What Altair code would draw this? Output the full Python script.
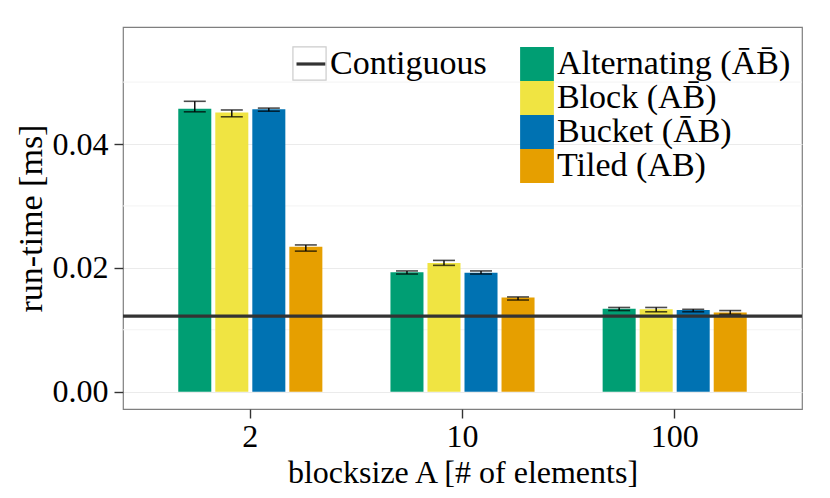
import altair as alt
import pandas as pd

blocksizes = ["2", "10", "100"]
layouts = ["Alternating (\u0100B\u0304)", "Block (AB\u0304)", "Bucket (\u0100B)", "Tiled (AB)"]
colors = ["#009E73", "#F0E442", "#0072B2", "#E69F00"]

mean_alternating = [0.0457, 0.0193, 0.0134]
mean_block = [0.0451, 0.0208, 0.0133]
mean_bucket = [0.0456, 0.0192, 0.0132]
mean_tiled = [0.0234, 0.0152, 0.0128]

lo_alternating = [0.0452, 0.0190, 0.0131]
lo_block = [0.0444, 0.0204, 0.0129]
lo_bucket = [0.0453, 0.0190, 0.0129]
lo_tiled = [0.0227, 0.0148, 0.0125]

hi_alternating = [0.0469, 0.0195, 0.0136]
hi_block = [0.0455, 0.0212, 0.0136]
hi_bucket = [0.0458, 0.0195, 0.0133]
hi_tiled = [0.0237, 0.0153, 0.0131]

contiguous_name = ["Contiguous"]
contiguous_value = [0.0122]
minor_grid = [0.01, 0.03, 0.05]
y_ticks = [0.0, 0.02, 0.04]

means = [mean_alternating, mean_block, mean_bucket, mean_tiled]
los = [lo_alternating, lo_block, lo_bucket, lo_tiled]
his = [hi_alternating, hi_block, hi_bucket, hi_tiled]

rows = []
for name, m, l, h in zip(layouts, means, los, his):
    for b, mv, lv, hv in zip(blocksizes, m, l, h):
        rows.append(dict(blocksize=b, layout=name, mean=mv, lo=lv, hi=hv))
df = pd.DataFrame(rows)
df_line = pd.DataFrame({"name": contiguous_name, "value": contiguous_value, "box": [" "]})
df_minor = pd.DataFrame({"v": minor_grid})

FONT = "Times New Roman, Liberation Serif, DejaVu Serif, serif"
FS = 32
TFS = 34
YTITLE = "run-time [ms]"

y_scale = alt.Scale(domain=[-0.0028, 0.0589], nice=False, zero=False)
x_enc = alt.X(
    "blocksize:N",
    sort=blocksizes,
    scale=alt.Scale(paddingInner=0.3, paddingOuter=0.25),
    axis=alt.Axis(title="blocksize A [# of elements]", labelAngle=0, labelPadding=3,
                  titlePadding=5, titleFontSize=32),
)
xoff = alt.XOffset("layout:N", sort=layouts, scale=alt.Scale(paddingInner=0.108, paddingOuter=0.06))

minor = alt.Chart(df_minor).mark_rule(color="#f3f3f3", strokeWidth=1).encode(
    y=alt.Y("v:Q", scale=y_scale, title=YTITLE)
)

bars = alt.Chart(df).mark_bar().encode(
    x=x_enc,
    xOffset=xoff,
    y=alt.Y(
        "mean:Q",
        scale=y_scale,
        title=YTITLE,
        axis=alt.Axis(values=y_ticks, format=".2f", labelPadding=6, titlePadding=4),
    ),
    fill=alt.Fill(
        "layout:N",
        sort=layouts,
        scale=alt.Scale(domain=layouts, range=colors),
        legend=alt.Legend(
            orient="none", legendX=397, legendY=20, title=None, symbolType="square",
            symbolSize=1142, symbolStrokeWidth=0, rowPadding=0, labelOffset=3,
            labelFont=FONT, labelFontSize=TFS, labelLimit=400, padding=0, symbolOpacity=1,
            labelColor="black",
        ),
    ),
)

err = alt.Chart(df).mark_rule(color="black", strokeWidth=1.4).encode(
    x=x_enc, xOffset=xoff,
    y=alt.Y("lo:Q", scale=y_scale, title=YTITLE), y2="hi:Q",
)
cap_lo = alt.Chart(df).mark_tick(color="black", thickness=1.6, size=22, orient="horizontal").encode(
    x=x_enc, xOffset=xoff, y=alt.Y("lo:Q", scale=y_scale, title=YTITLE)
)
cap_hi = alt.Chart(df).mark_tick(color="black", thickness=1.6, size=22, orient="horizontal").encode(
    x=x_enc, xOffset=xoff, y=alt.Y("hi:Q", scale=y_scale, title=YTITLE)
)

line = alt.Chart(df_line).mark_rule(strokeWidth=3.2).encode(
    y=alt.Y("value:Q", scale=y_scale, title=YTITLE),
    stroke=alt.Stroke(
        "name:N",
        scale=alt.Scale(domain=contiguous_name, range=["#333333"]),
        legend=alt.Legend(
            orient="none", legendX=171, legendY=20, title=None, symbolType="stroke",
            symbolSize=841, symbolStrokeWidth=3.2, labelOffset=2, labelFont=FONT,
            labelFontSize=TFS, labelLimit=400, padding=0, labelColor="black",
        ),
    ),
)

box = alt.Chart(df_line).mark_point(opacity=0).encode(
    y=alt.Y("value:Q", scale=y_scale, title=YTITLE),
    shape=alt.Shape(
        "box:N",
        scale=alt.Scale(domain=[" "], range=["square"]),
        legend=alt.Legend(
            orient="none", legendX=169, legendY=19, title=None, symbolType="square",
            symbolSize=1100, symbolFillColor="transparent", symbolStrokeColor="#cccccc",
            symbolStrokeWidth=1.2, symbolOpacity=1, labelExpr="''", padding=0,
            labelFontSize=TFS,
        ),
    ),
)

chart = (
    alt.layer(minor, bars, err, cap_lo, cap_hi, line, box)
    .resolve_legend(fill="independent", stroke="independent", shape="independent")
    .properties(
        width=679,
        height=382,
        autosize=alt.AutoSizeParams(type="none"),
        padding={"left": 115, "top": 19, "right": 20, "bottom": 81},
        background="white",
    )
    .configure(font=FONT)
    .configure_view(stroke="#7f7f7f", strokeWidth=1.2)
    .configure_axis(
        labelFont=FONT, labelFontSize=FS, labelColor="black",
        titleFont=FONT, titleFontSize=TFS, titleFontWeight="normal", titleColor="black",
        tickColor="#333333", tickSize=9, tickWidth=1.4, domain=False,
        gridColor="#ebebeb", gridWidth=1,
    )
    .configure_legend(labelFont=FONT)
)

chart.save("out.html", embed_options={"renderer": "svg", "actions": False})
